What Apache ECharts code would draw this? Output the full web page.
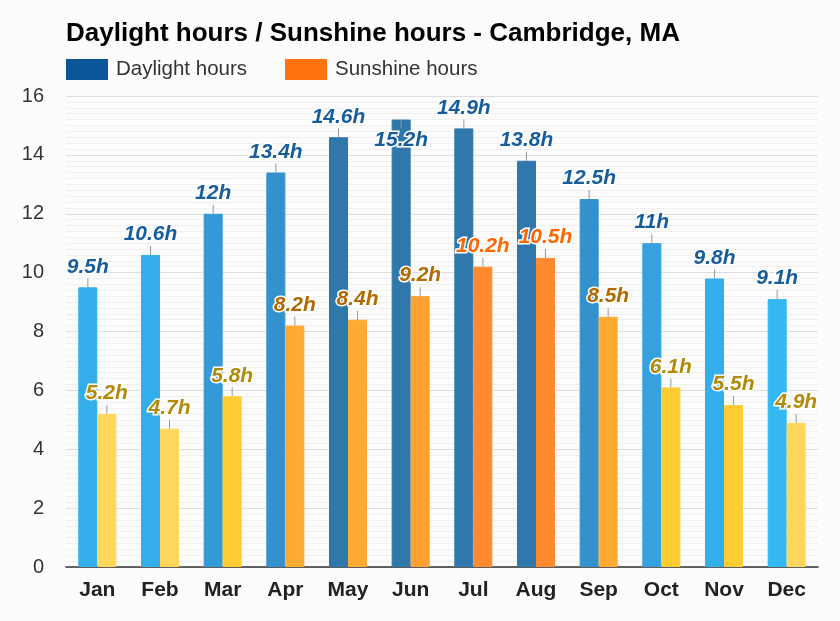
<!DOCTYPE html>
<html>
<head>
<meta charset="utf-8">
<script src="https://cdn.jsdelivr.net/npm/echarts@6/dist/echarts.min.js"></script>
<style>html,body{margin:0;padding:0;background:#fbfcfb;}#c{width:840px;height:621px;}</style>
</head>
<body>
<div id="c"></div>
<script>
const months = ['Jan','Feb','Mar','Apr','May','Jun','Jul','Aug','Sep','Oct','Nov','Dec'];
const daylight = [9.5, 10.6, 12, 13.4, 14.6, 15.2, 14.9, 13.8, 12.5, 11, 9.8, 9.1];
const sunshine = [5.2, 4.7, 5.8, 8.2, 8.4, 9.2, 10.2, 10.5, 8.5, 6.1, 5.5, 4.9];
const yTicks = [0, 2, 4, 6, 8, 10, 12, 14, 16];

const FONT = 'Liberation Sans, Arial, sans-serif';

function dayColor(v){
  if (v < 9.4) return '#33b8f2';
  if (v < 10.9) return '#33aeea';
  if (v < 11.5) return '#35a1de';
  if (v < 12.2) return '#349ad7';
  if (v < 13.6) return '#3391ce';
  return '#3077ab';
}
function sunColor(v){
  if (v < 5.4) return '#ffd65c';
  if (v < 7) return '#ffcc33';
  if (v < 9) return '#ffab33';
  if (v < 10) return '#ffa033';
  return '#ff8a2f';
}
function sunLabelColor(v){
  if (v < 7) return '#b08a08';
  if (v < 10) return '#b06a00';
  return '#ff6600';
}
function fmt(v){ return v + 'h'; }

function makeItems(vals, colFn, labCol){
  return vals.map(v => {
    const c = colFn(v);
    const inside = v > 15;
    const lc = labCol(v);
    return {
      value: v,
      itemStyle: { color: c, borderColor: c },
      label: {
        show: true,
        position: inside ? 'insideTop' : 'top',
        distance: 0,
        fontStyle: 'italic',
        fontWeight: 'bold',
        fontFamily: FONT,
        formatter: inside ? '{l|}\n{v|' + fmt(v) + '}' : '{v|' + fmt(v) + '}\n{l|}',
        rich: {
          v: { color: lc, fontSize: 21, fontWeight: 'bold', fontStyle: 'italic',
               fontFamily: FONT, textBorderColor: '#fff', textBorderWidth: 3, lineHeight: 23 },
          l: { width: 1, height: 9, lineHeight: 9, backgroundColor: '#999999' }
        }
      }
    };
  });
}

const chart = echarts.init(document.getElementById('c'));
chart.setOption({
  backgroundColor: '#fbfcfb',
  animation: false,
  title: {
    text: 'Daylight hours / Sunshine hours - Cambridge, MA',
    left: 61, top: 16,
    textStyle: { fontFamily: FONT, fontSize: 26, fontWeight: 'bold', color: '#000' }
  },
  legend: {
    left: 61, top: 54,
    icon: 'rect',
    itemWidth: 42, itemHeight: 21, itemGap: 38,
    textStyle: { fontFamily: FONT, fontSize: 20.5, color: '#333', padding: [0,0,0,3] },
    data: ['Daylight hours', 'Sunshine hours']
  },
  grid: { left: 66, right: 22, top: 96, bottom: 54 },
  xAxis: {
    type: 'category',
    data: months,
    axisLine: { lineStyle: { color: '#333', width: 1.5 } },
    axisTick: { show: false },
    axisLabel: { fontFamily: FONT, fontSize: 21, fontWeight: 'bold', color: '#222', margin: 13 }
  },
  yAxis: {
    type: 'value',
    min: yTicks[0], max: yTicks[yTicks.length - 1], interval: 2,
    axisLine: { show: false },
    axisTick: { show: false },
    axisLabel: { fontFamily: FONT, fontSize: 20, color: '#333', margin: 22 },
    splitLine: { lineStyle: { color: '#dddddd', width: 1 } },
    minorTick: { show: false, splitNumber: 10 },
    minorSplitLine: { show: true, lineStyle: { color: '#f0f0f0', width: 1 } }
  },
  series: [
    {
      name: 'Daylight hours', type: 'bar',
      barWidth: 19, barGap: '0%',
      itemStyle: { color: '#0b559b', borderWidth: 1 },
      data: makeItems(daylight, dayColor, () => '#175d9c')
    },
    {
      name: 'Sunshine hours', type: 'bar',
      barWidth: 19, barGap: '0%',
      itemStyle: { color: '#ff7310', borderWidth: 1 },
      data: makeItems(sunshine, sunColor, sunLabelColor)
    }
  ]
});
</script>
</body>
</html>
